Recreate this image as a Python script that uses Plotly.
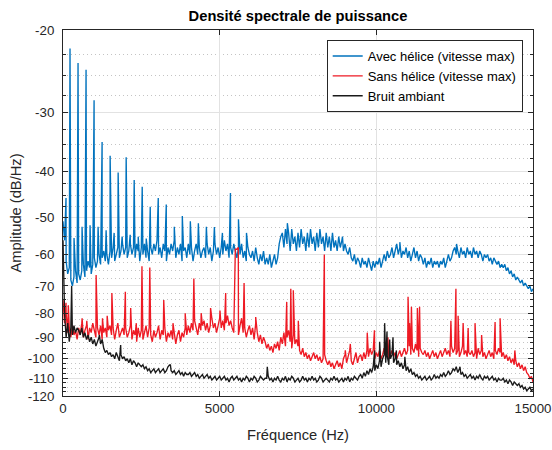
import math
import plotly.graph_objects as go

# ---------------- data (values in dB/Hz) ----------------
FREQ_STEP = 50  # Hz between baseline samples, 0 .. 15000 Hz

blue_base = [
 -51,-56,-62,-66,-64,-68,-70,-67,-65,-69,
 -66,-68,-65,-63,-67,-65,-62,-64,-66,-63,
 -61,-64,-62,-60,-63,-61,-59,-62,-60,-63,
 -59,-61,-58,-62,-60,-58,-61,-59,-57,-60,
 -58,-61,-59,-57,-60,-58,-61,-57,-59,-62,
 -58,-60,-57,-61,-59,-62,-58,-60,-57,-59,
 -56,-60,-58,-61,-57,-59,-62,-58,-60,-57,
 -59,-56,-61,-58,-60,-57,-62,-59,-58,-61,
 -57,-60,-58,-62,-59,-57,-60,-58,-61,-59,
 -58,-61,-57,-60,-58,-62,-59,-57,-60,-58,
 -61,-58,-60,-56,-59,-57,-61,-58,-60,-57,
 -59,-61,-58,-60,-57,-61,-59,-62,-58,-60,
 -61,-59,-62,-58,-61,-63,-60,-62,-59,-63,
 -61,-63,-60,-64,-62,-60,-63,-61,-57,-55,
 -54,-58,-53,-57,-54,-59,-53,-57,-55,-59,
 -54,-58,-53,-57,-55,-59,-54,-58,-53,-57,
 -55,-59,-54,-58,-53,-57,-55,-59,-54,-58,
 -55,-59,-54,-58,-56,-59,-55,-58,-56,-59,
 -57,-59,-60,-58,-61,-62,-60,-63,-61,-62,
 -64,-61,-63,-62,-64,-61,-63,-65,-62,-64,
 -62,-63,-61,-64,-62,-60,-62,-59,-61,-60,
 -58,-61,-59,-57,-60,-58,-61,-59,-60,-58,
 -61,-59,-62,-60,-58,-61,-59,-62,-60,-61,
 -63,-61,-64,-62,-63,-61,-64,-62,-63,-62,
 -64,-62,-63,-61,-64,-62,-60,-62,-61,-59,
 -58,-60,-59,-61,-58,-60,-59,-61,-58,-60,
 -59,-61,-58,-60,-59,-61,-59,-60,-62,-60,
 -61,-60,-62,-61,-63,-61,-62,-63,-62,-64,
 -63,-64,-63,-65,-64,-66,-65,-67,-66,-68,
 -67,-68,-69,-68,-70,-69,-70,-71,-70,-72,
 -71,
]
blue_peak_freq = [96, 224, 352, 480, 608, 736, 864, 992, 1120, 1248, 1376, 1504,
                  1632, 1760, 1888, 2016, 2144, 2272, 2400, 2528, 2656, 2784,
                  3040, 3296, 3552, 3808, 4064, 4320, 4576, 4832, 5088, 5344,
                  5600, 5856, 7160, 8920, 10750, 12560]
blue_peak_val = [-45.5, -21.9, -55.4, -23.5, -52.4, -24.3, -52, -28.2, -52.4, -34.6, -53.3, -37,
                 -54, -40.2, -55, -37.3, -54.5, -41.7, -55, -43.1, -55.5, -47.5,
                 -45.5, -47, -52.4, -49.7, -51, -51.5, -52.4, -52.5, -54, -44.4,
                 -50.5, -54, -51.5, -55, -56.5, -57]

red_base = [
 -75,-84,-80,-88,-86,-90,-85,-89,-87,-91,
 -86,-89,-84,-90,-87,-85,-91,-86,-88,-84,
 -87,-90,-86,-89,-85,-91,-88,-86,-90,-87,
 -85,-89,-86,-91,-87,-84,-90,-88,-86,-89,
 -86,-90,-88,-85,-91,-87,-89,-92,-86,-90,
 -87,-91,-88,-85,-90,-86,-89,-92,-87,-90,
 -88,-85,-91,-87,-89,-86,-92,-88,-90,-87,
 -91,-88,-93,-89,-87,-92,-88,-90,-86,-89,
 -85,-88,-84,-87,-83,-86,-89,-84,-87,-85,
 -83,-87,-84,-88,-85,-82,-86,-84,-88,-85,
 -82,-86,-83,-87,-84,-81,-85,-83,-86,-88,
 -58.5,-58.5,-89,-85,-82,-88,-86,-90,-87,-85,
 -89,-86,-91,-84,-88,-92,-89,-93,-90,-92,
 -95,-93,-96,-94,-97,-93,-95,-92,-96,-90,
 -93,-88,-94,-90,-87,-92,-95,-89,-93,-91,
 -94,-96,-98,-95,-99,-97,-100,-98,-101,-99,
 -97,-100,-98,-101,-99,-102,-100,-98,-101,-103,
 -101,-104,-102,-105,-103,-101,-104,-102,-105,-100,
 -98,-102,-99,-96,-101,-103,-100,-97,-102,-99,
 -98,-101,-97,-100,-96,-99,-95,-98,-96,-100,
 -97,-99,-96,-100,-98,-95,-99,-97,-100,-98,
 -96,-99,-97,-100,-98,-96,-99,-97,-95,-98,
 -96,-94,-98,-95,-97,-93,-96,-99,-95,-97,
 -98,-96,-99,-97,-100,-98,-96,-99,-97,-100,
 -98,-96,-99,-97,-95,-98,-96,-99,-94,-97,
 -95,-98,-96,-99,-97,-94,-98,-96,-99,-97,
 -98,-96,-99,-97,-100,-95,-98,-96,-99,-97,
 -100,-98,-96,-99,-97,-100,-96,-98,-95,-97,
 -99,-97,-100,-98,-101,-99,-102,-100,-103,-101,
 -104,-102,-105,-103,-106,-104,-107,-108,-110,-109,
 -112,
]
red_peak_freq = [96, 170, 610, 760, 1057, 1260, 1410, 1560, 1990, 2160, 2340, 2520,
                 2770, 3215, 3510, 3900, 4176, 4410, 4710, 5010, 5192, 5595, 5779,
                 6150, 7140, 7270, 7350, 7510, 8340, 9010, 9170, 9710, 9940, 10370,
                 11013, 11060, 11120, 11310, 11380, 12380, 12540, 12610, 12770,
                 12930, 13150, 13360, 13790, 13950, 14420]
red_peak_val = [-76, -77, -82, -83, -66.4, -82, -81, -72.5, -72, -78, -84, -63.6,
                -64, -75, -84, -80, -67.5, -80, -78, -79, -72.5, -58, -69,
                -81.5, -75.7, -71, -71.5, -83, -60, -96, -93, -88, -87, -90,
                -73.8, -84, -77.5, -78, -77.5, -83, -71, -81, -84,
                -86, -84, -89, -83.5, -82, -96]

black_base = [
 -56,-80,-90,-84,-92,-86,-89,-85,-88,-86,
 -87,-89,-86,-90,-88,-91,-89,-92,-90,-93,
 -91,-94,-92,-90,-93,-91,-95,-97,-96,-98,
 -97,-99,-98,-100,-97,-99,-101,-98,-100,-99,
 -101,-100,-102,-100,-103,-101,-102,-104,-102,-103,
 -104,-103,-105,-104,-106,-105,-107,-106,-105,-107,
 -106,-105,-107,-106,-105,-107,-106,-104,-103,-106,
 -107,-106,-108,-107,-106,-108,-107,-109,-107,-108,
 -108,-107,-109,-108,-107,-109,-108,-110,-109,-108,
 -110,-109,-108,-110,-109,-111,-110,-109,-111,-110,
 -109,-111,-110,-109,-111,-110,-112,-110,-109,-111,
 -110,-109,-111,-110,-112,-110,-111,-109,-110,-112,
 -110,-111,-109,-110,-112,-111,-109,-110,-111,-110,
 -110,-109,-111,-110,-112,-110,-111,-109,-111,-112,
 -110,-111,-109,-112,-110,-111,-109,-110,-112,-111,
 -110,-112,-111,-109,-111,-110,-112,-110,-111,-109,
 -111,-110,-112,-111,-109,-110,-112,-111,-110,-111,
 -112,-110,-111,-109,-111,-110,-112,-111,-110,-112,
 -110,-111,-109,-112,-110,-111,-109,-110,-111,-109,
 -108,-110,-107,-109,-106,-108,-105,-107,-104,-106,
 -103,-105,-101,-104,-100,-98,-102,-99,-103,-100,
 -98,-102,-100,-103,-101,-104,-102,-105,-103,-106,
 -104,-107,-105,-108,-107,-109,-108,-110,-109,-111,
 -110,-109,-111,-110,-109,-111,-110,-108,-110,-109,
 -110,-108,-109,-107,-109,-108,-106,-108,-107,-105,
 -106,-104,-107,-105,-108,-107,-109,-108,-110,-109,
 -108,-110,-109,-111,-109,-110,-108,-110,-111,-109,
 -110,-109,-111,-110,-109,-111,-110,-112,-110,-111,
 -111,-110,-112,-111,-113,-111,-112,-114,-112,-113,
 -114,-113,-115,-114,-116,-115,-117,-116,-115,-117,
 -116,
]
black_peak_freq = [276, 1160, 1840, 3428, 6520, 9945, 10105, 10265, 10340, 10425,
                   10532, 10640, 10910, 12670]
black_peak_val = [-70, -89, -93.5, -103, -104, -96, -92, -84, -87.5, -91,
                  -90, -96, -99, -104]

series_names = ["Avec hélice (vitesse max)", "Sans hélice (vitesse max)", "Bruit ambiant"]
series_colors = ["#0072BD", "#EE1A24", "#1A1A1A"]

y_ticks_db = [-20, -30, -40, -50, -60, -70, -80, -90, -100, -110, -120]
x_ticks = [0, 5000, 10000, 15000]


def build(base, pf, pv):
    pts = [(FREQ_STEP * i, v) for i, v in enumerate(base)] + list(zip(pf, pv))
    pts.sort(key=lambda p: p[0])
    f = [p[0] for p in pts]
    # negative dB values are shown on a logarithmic magnitude axis (as in the original)
    mag = [-p[1] for p in pts]
    db = [p[1] for p in pts]
    return f, mag, db


fig = go.Figure()
for base, pf, pv, name, col in [
    (blue_base, blue_peak_freq, blue_peak_val, series_names[0], series_colors[0]),
    (red_base, red_peak_freq, red_peak_val, series_names[1], series_colors[1]),
    (black_base, black_peak_freq, black_peak_val, series_names[2], series_colors[2]),
]:
    f, mag, db = build(base, pf, pv)
    fig.add_trace(go.Scatter(x=f, y=mag, mode="lines", name=name,
                             line=dict(color=col, width=1.35, simplify=False),
                             customdata=db,
                             hovertemplate="%{x} Hz<br>%{customdata} dB/Hz<extra></extra>"))

major = [-v for v in y_ticks_db]
minor = [m + d for m in major[:-1] for d in (2.5, 5, 7.5)]

AX = "#262626"
fig.update_layout(
    width=552, height=450,
    margin=dict(l=63, r=19, t=30, b=54, autoexpand=False),
    paper_bgcolor="white", plot_bgcolor="white",
    font=dict(family="Liberation Sans, Arial, sans-serif", size=13.3, color=AX),
    title=dict(text="<b>Densité spectrale de puissance</b>", x=0.5, xref="paper",
               xanchor="center", y=1 - 16 / 450, yref="container", yanchor="middle",
               font=dict(size=14.7, color="#000000")),
    showlegend=True,
    legend=dict(x=(326.7 - 63) / 470, y=(396 - 40) / 366, xanchor="left", yanchor="top",
                bgcolor="white", bordercolor=AX, borderwidth=1,
                font=dict(size=13, color="#000000"), tracegroupgap=0),
    xaxis=dict(range=[0, 15000], tickmode="array", tickvals=x_ticks,
               ticktext=[str(v) for v in x_ticks], automargin=False,
               ticks="inside", ticklen=5, tickcolor=AX, showline=True, linecolor=AX,
               linewidth=1, mirror="ticks", showgrid=True, gridcolor="#E2E2E2",
               zeroline=False,
               title=dict(text="Fréquence (Hz)", font=dict(size=14.7), standoff=14)),
    yaxis=dict(type="log", range=[math.log10(120), math.log10(20)], automargin=False,
               tickmode="array", tickvals=major, ticktext=[str(v) for v in y_ticks_db],
               ticks="inside", ticklen=5, tickcolor=AX, showline=True, linecolor=AX,
               linewidth=1, mirror="ticks", showgrid=True, gridcolor="#E2E2E2",
               zeroline=False, ticklabelstandoff=5,
               minor=dict(tickmode="array", tickvals=minor, ticks="inside", ticklen=3,
                          tickcolor=AX, showgrid=True, gridcolor="#C4C4C4",
                          griddash="1px,3px", gridwidth=1),
               title=dict(text="Amplitude (dB/Hz)", font=dict(size=14.7), standoff=2)),
)

# remove the page's default body margin so the 552x450 figure fills the window exactly
fig.write_html(
    "out.html",
    config={"displayModeBar": False},
    post_script="document.body.style.margin='0';"
                "document.documentElement.style.overflow='hidden';",
)
